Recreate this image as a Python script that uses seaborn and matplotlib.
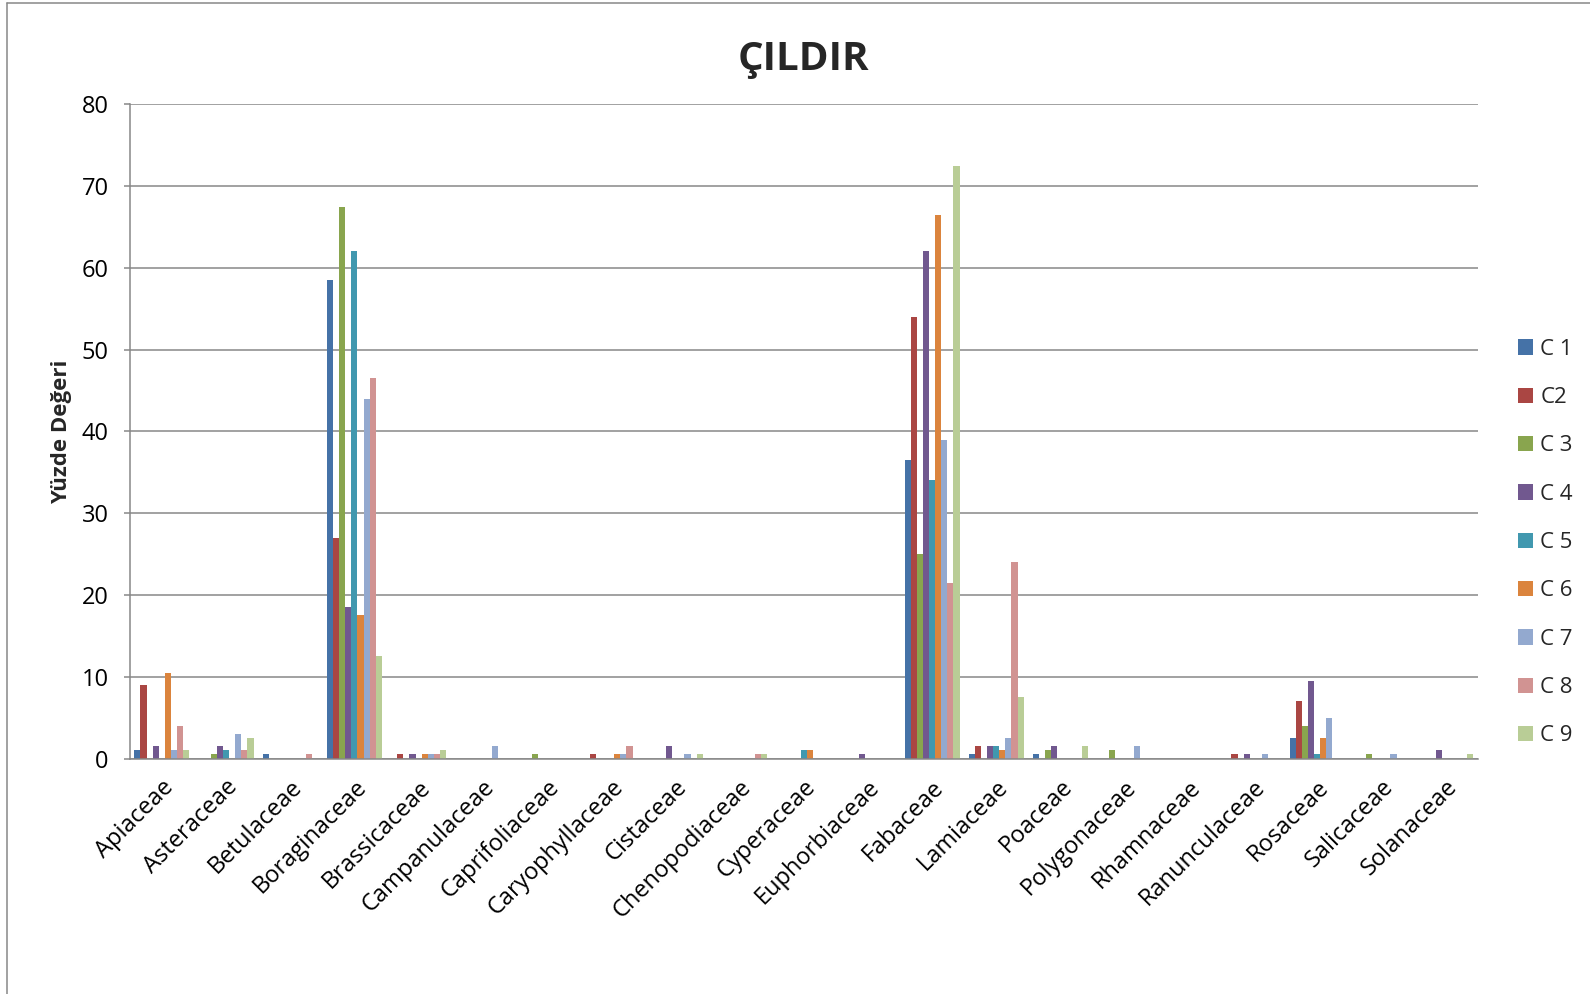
import numpy as np
import pandas as pd
import matplotlib
matplotlib.use("Agg")
import matplotlib.pyplot as plt
from matplotlib.lines import Line2D
import seaborn as sns

families = ["Apiaceae", "Asteraceae", "Betulaceae", "Boraginaceae", "Brassicaceae",
            "Campanulaceae", "Caprifoliaceae", "Caryophyllaceae", "Cistaceae",
            "Chenopodiaceae", "Cyperaceae", "Euphorbiaceae", "Fabaceae", "Lamiaceae",
            "Poaceae", "Polygonaceae", "Rhamnaceae", "Ranunculaceae", "Rosaceae",
            "Salicaceae", "Solanaceae"]

series_names = ["C 1", "C2", "C 3", "C 4", "C 5", "C 6", "C 7", "C 8", "C 9"]

c1 = [1.0, 0, 0.5, 58.5, 0, 0, 0, 0, 0, 0, 0, 0, 36.5, 0.5, 0.5, 0, 0, 0, 2.5, 0, 0]
c2 = [9.0, 0, 0, 27.0, 0.5, 0, 0, 0.5, 0, 0, 0, 0, 54.0, 1.5, 0, 0, 0, 0.5, 7.0, 0, 0]
c3 = [0, 0.5, 0, 67.5, 0, 0, 0.5, 0, 0, 0, 0, 0, 25.0, 0, 1.0, 1.0, 0, 0, 4.0, 0.5, 0]
c4 = [1.5, 1.5, 0, 18.5, 0.5, 0, 0, 0, 1.5, 0, 0, 0.5, 62.0, 1.5, 1.5, 0, 0, 0.5, 9.5, 0, 1.0]
c5 = [0, 1.0, 0, 62.0, 0, 0, 0, 0, 0, 0, 1.0, 0, 34.0, 1.5, 0, 0, 0, 0, 0.5, 0, 0]
c6 = [10.5, 0, 0, 17.5, 0.5, 0, 0, 0.5, 0, 0, 1.0, 0, 66.5, 1.0, 0, 0, 0, 0, 2.5, 0, 0]
c7 = [1.0, 3.0, 0, 44.0, 0.5, 1.5, 0, 0.5, 0.5, 0, 0, 0, 39.0, 2.5, 0, 1.5, 0, 0.5, 5.0, 0.5, 0]
c8 = [4.0, 1.0, 0.5, 46.5, 0.5, 0, 0, 1.5, 0, 0.5, 0, 0, 21.5, 24.0, 0, 0, 0, 0, 0, 0, 0]
c9 = [1.0, 2.5, 0, 12.5, 1.0, 0, 0, 0, 0.5, 0.5, 0, 0, 72.5, 7.5, 1.5, 0, 0, 0, 0, 0, 0.5]

colors = ["#4572A7", "#AA4643", "#89A54E", "#71588F", "#4198AF",
          "#DB843D", "#93A9CF", "#D19392", "#B9CD96"]

yticks = [0, 10, 20, 30, 40, 50, 60, 70, 80]

# long-form table for seaborn
values = [c1, c2, c3, c4, c5, c6, c7, c8, c9]
df = pd.DataFrame({
    "family": np.tile(families, len(series_names)),
    "series": np.repeat(series_names, len(families)),
    "value": np.concatenate(values),
})

sns.set_theme(style="white")
FONT = ["Open Sans", "DejaVu Sans"]
plt.rcParams["font.family"] = FONT

W, H = 1590, 994
fig = plt.figure(figsize=(W / 100, H / 100), dpi=100)
ax = fig.add_axes([129.8 / W, 1 - 758.5 / H, (1477.5 - 129.8) / W, (758.5 - 104.3) / H])

sns.barplot(data=df, x="family", y="value", hue="series", order=families,
            hue_order=series_names, palette=colors, saturation=1,
            width=0.857, gap=0, linewidth=0, ax=ax, legend=True, errorbar=None)

grid_col = "#878787"
ax.set_ylim(0, 80)
ax.set_yticks(yticks)
ax.set_xlim(-0.5, len(families) - 0.5)
ax.yaxis.grid(True, color=grid_col, linewidth=1.1)
ax.set_axisbelow(True)
for side in ["top", "right"]:
    ax.spines[side].set_visible(False)
for side in ["left", "bottom"]:
    ax.spines[side].set_color(grid_col)
    ax.spines[side].set_linewidth(1.1)
ax.tick_params(axis="y", which="both", left=True, length=4.3, width=1.1,
               color=grid_col, pad=11, labelsize=17, labelcolor="black")
ax.tick_params(axis="x", length=0, pad=12, labelsize=17, labelcolor="black")
for lab in ax.get_xticklabels():
    lab.set_rotation(45)
    lab.set_ha("right")
    lab.set_rotation_mode("anchor")

ax.set_xlabel("")
ax.set_ylabel("Yüzde Değeri", fontsize=16, fontweight="bold", labelpad=7)

fig.text(803.6 / W, 1 - 70 / H, "ÇILDIR", ha="center", va="baseline",
         fontsize=29, fontweight="bold")

handles, labels = ax.get_legend_handles_labels()
ax.get_legend().remove()
fig.legend(handles, labels, loc="center left",
           bbox_to_anchor=(1518 / W, 1 - 542.5 / H), frameon=False,
           fontsize=16, handlelength=0.68, handleheight=0.68,
           handletextpad=0.32, labelspacing=1.23, borderpad=0, borderaxespad=0)

# chart frame
fig.add_artist(Line2D([6.7 / W, 6.7 / W], [0, 1 - 2.7 / H], color=grid_col,
                      linewidth=1.1, transform=fig.transFigure))
fig.add_artist(Line2D([6.7 / W, 1], [1 - 2.7 / H, 1 - 2.7 / H], color=grid_col,
                      linewidth=1.1, transform=fig.transFigure))

fig.savefig("out.png", dpi=100)
